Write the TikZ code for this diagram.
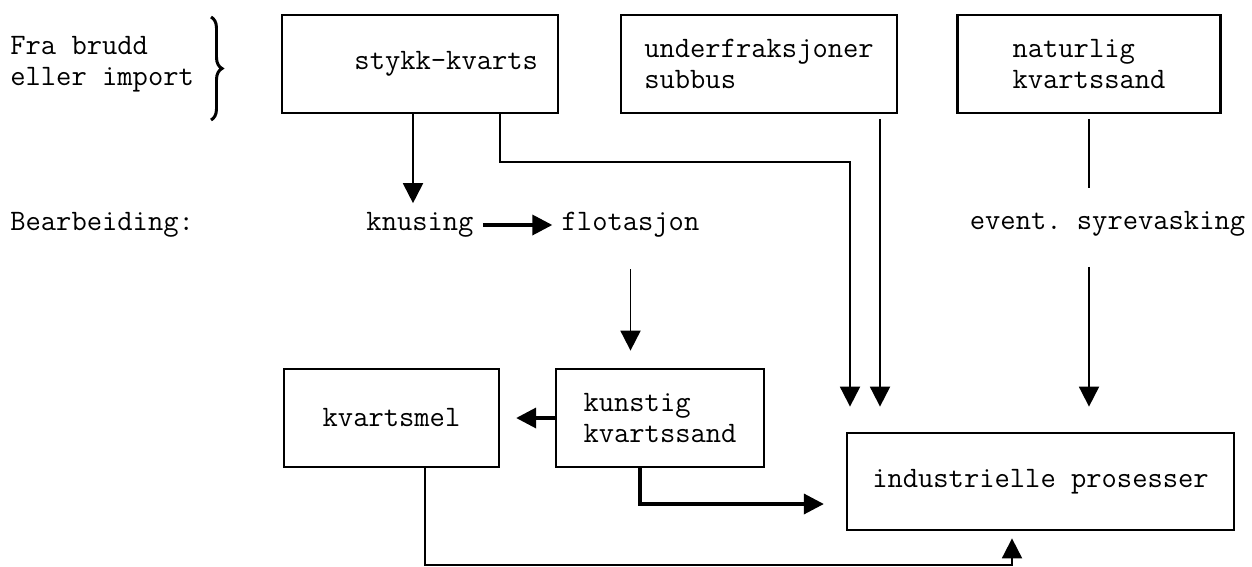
\documentclass[tikz,border=0pt]{standalone}
\usepackage{fontspec}
\usetikzlibrary{arrows.meta,decorations.pathreplacing}

\begin{document}
\begin{tikzpicture}[node distance=4.2cm, every node/.style={font=\ttfamily\fontsize{16.9}{17.5}\selectfont},
    box/.style={draw, line width=1.3pt, align=left, minimum height=1.95cm},
    txt/.style={inner sep=0.18cm},
    arr/.style={line width=1.1pt, -{Triangle[length=0.4cm, width=0.4cm]}},
    fat/.style={arr, line width=2pt}]
  \useasboundingbox (0,0) rectangle (25.04,-11.32);
  % sources
  \node[anchor=west, align=left, inner sep=0pt] (fra) at (0.2,-1.28) {Fra brudd\\eller import};
  \draw[line width=1.7pt, decorate, decoration={brace, amplitude=0.22cm}] (4.22,-0.34) -- (4.22,-2.4);
  \node[box, text width=4.72cm, align=right, inner xsep=0.4cm] (stykk) at (8.4,-1.28) {stykk-kvarts};
  \node[box, right of=stykk, node distance=6.78cm, minimum width=5.52cm] (under) {underfraksjoner\\subbus};
  \node[box, right of=under, node distance=6.6cm, minimum width=5.26cm] (natur) {naturlig\\kvartssand};
  % processing
  \node[anchor=west, inner sep=0pt] (bearb) at (0.2,-4.5) {Bearbeiding:};
  \node[txt, below of=stykk, node distance=3.22cm] (knus) {knusing};
  \node[txt, right of=knus, node distance=4.21cm] (flot) {flotasjon};
  \node[txt, below of=natur, node distance=3.2cm, xshift=0.37cm] (syre) {event.\ syrevasking};
  % products
  \node[box, below of=flot, node distance=3.86cm, xshift=0.59cm, minimum width=4.16cm] (kunstig) {kunstig\\kvartssand};
  \node[box, left of=kunstig, node distance=5.37cm, minimum width=4.3cm] (kmel) {kvartsmel};
  \node[box, right of=kunstig, node distance=7.61cm, yshift=-1.27cm, minimum width=7.74cm] (indus) {industrielle prosesser};
  % flows
  \draw[arr] ([xshift=-0.14cm]stykk.south) -- ([xshift=-0.14cm]knus.north);
  \draw[fat] (knus) -- (flot);
  \draw[arr, shorten <=0.45cm, shorten >=0.35cm] (flot.south) -- (flot.south |- kunstig.north);
  \draw[fat, shorten >=0.32cm] (kunstig.west) -- (kmel.east);
  \draw[arr, shorten >=0.5cm] ([xshift=1.6cm]stykk.south) -- ++(0,-0.97) -| ([xshift=-3.81cm]indus.north);
  \draw[arr, shorten <=0.1cm, shorten >=0.5cm] ([xshift=2.42cm]under.south) -- ([xshift=2.42cm]under.south |- indus.north);
  \draw[line width=1.1pt, shorten <=0.1cm, shorten >=0.29cm] (natur.south) -- (natur.south |- syre.north);
  \draw[arr, shorten <=0.42cm, shorten >=0.5cm] (natur.south |- syre.south) -- (natur.south |- indus.north);
  \draw[fat, shorten >=0.44cm] ([xshift=-0.4cm]kunstig.south) |- ([yshift=-0.45cm]indus.west);
  \draw[arr, shorten >=0.14cm] ([xshift=0.67cm]kmel.south) -- ++(0,-1.94) -| ([xshift=-0.57cm]indus.south);
\end{tikzpicture}
\end{document}
